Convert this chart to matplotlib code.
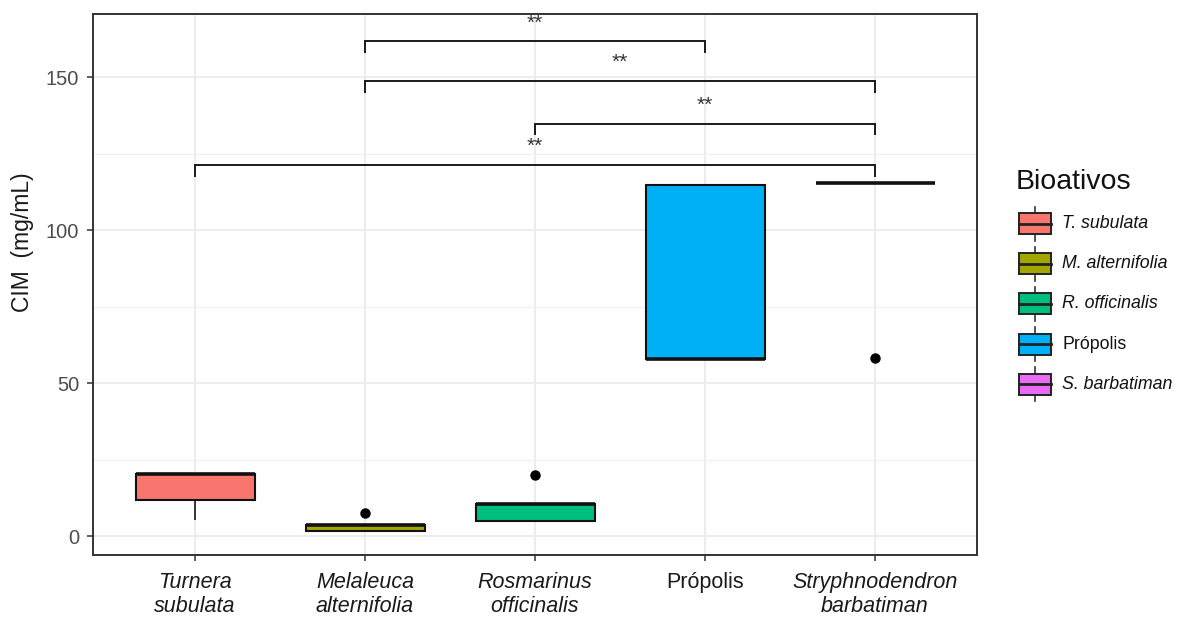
import matplotlib
matplotlib.use("Agg")
import matplotlib.pyplot as plt
from matplotlib.patches import Rectangle

plt.rcParams['font.family'] = ['Liberation Sans', 'DejaVu Sans']

# ---------------- data ----------------
categories = ["Turnera\nsubulata", "Melaleuca\nalternifolia", "Rosmarinus\nofficinalis",
              "Própolis", "Stryphnodendron\nbarbatiman"]
cat_italic = [True, True, True, False, True]
legend_labels = ["T. subulata", "M. alternifolia", "R. officinalis", "Própolis", "S. barbatiman"]
colors = ["#F8766D", "#A3A500", "#00BF7D", "#00B0F6", "#E76BF3"]

whislo = [5.5, 1.7, 5.0, 57.9, 115.5]
q1 = [11.9, 1.7, 5.0, 57.9, 115.5]
med = [20.4, 3.6, 10.5, 57.9, 115.5]
q3 = [20.4, 3.6, 10.5, 114.7, 115.5]
whishi = [20.4, 3.6, 10.5, 114.7, 115.5]
fliers = [[], [7.5], [19.8], [], [58.3]]

comparisons = [(2, 4), (2, 5), (3, 5), (1, 5)]
bracket_y = [161.7, 148.7, 134.8, 121.3]
bracket_labels = ["**", "**", "**", "**"]
tip_len = 3.5

yticks = [0, 50, 100, 150]
yminor = [25, 75, 125]

# ---------------- figure ----------------
W, H = 1180, 619
fig = plt.figure(figsize=(W / 100, H / 100), dpi=100)
ax = fig.add_axes([93 / W, 1 - 555 / H, (977 - 93) / W, (555 - 14) / H])

positions = list(range(1, len(categories) + 1))
stats = []
for i in range(len(categories)):
    stats.append(dict(whislo=whislo[i], q1=q1[i], med=med[i], q3=q3[i],
                      whishi=whishi[i], fliers=fliers[i]))

bp = ax.bxp(stats, positions=positions, widths=0.7, patch_artist=True,
            showcaps=False,
            boxprops=dict(linewidth=1.5, edgecolor="#111111"),
            medianprops=dict(linewidth=2.6, color="#111111", solid_capstyle='butt'),
            whiskerprops=dict(linewidth=1.4, color="#333333"),
            flierprops=dict(marker='o', markerfacecolor='black', markeredgecolor='black',
                            markersize=6.5))
for patch, c in zip(bp['boxes'], colors):
    patch.set_facecolor(c)
for b in bp['boxes']:
    b.set_zorder(3)
for m in bp['medians']:
    m.set_zorder(4)

# significance brackets
for (a, b), y, lab in zip(comparisons, bracket_y, bracket_labels):
    ax.plot([a, a, b, b], [y - tip_len, y, y, y - tip_len], color="#1A1A1A", lw=1.4,
            solid_joinstyle='miter', zorder=5)
    ax.text((a + b) / 2, y + 6.0, lab, ha='center', va='center', fontsize=15,
            color="#333333", zorder=5)

ax.set_xlim(0.4, 5.6)
ax.set_ylim(-6.2, 170.6)

# grid
ax.set_yticks(yticks)
ax.set_yticks(yminor, minor=True)
ax.set_xticks(positions)
ax.grid(True, which='major', color='#EBEBEB', lw=1.3, zorder=0)
ax.grid(True, which='minor', axis='y', color='#F0F0F0', lw=0.9, zorder=0)
ax.set_axisbelow(True)
ax.tick_params(axis='y', which='minor', length=0)

ax.set_yticklabels([str(t) for t in yticks], fontsize=14.5, color="#4D4D4D")
ax.set_xticklabels(categories, fontsize=15.5, color="#1A1A1A", linespacing=1.2)
for lbl, it in zip(ax.get_xticklabels(), cat_italic):
    lbl.set_style('italic' if it else 'normal')
ax.tick_params(axis='both', which='major', length=4, width=1.1, color="#333333")
ax.tick_params(axis='x', pad=8)
ax.tick_params(axis='y', pad=6)

for s in ax.spines.values():
    s.set_color("#333333")
    s.set_linewidth(1.4)

fig.text(23 / W, 1 - 242 / H, "CIM  (mg/mL)", rotation=90, ha='center', va='center',
         fontsize=16.5, color="#1A1A1A")

# ---------------- legend (manual) ----------------
lax = fig.add_axes([0, 0, 1, 1], facecolor='none')
lax.set_xlim(0, W)
lax.set_ylim(H, 0)
lax.axis('off')
lax.text(1016, 182, "Bioativos", fontsize=20.5, ha='left', va='center', color="#111111")
for i, (lab, c) in enumerate(zip(legend_labels, colors)):
    cy = 223.5 + 40.2 * i
    lax.plot([1035, 1035], [cy - 17, cy + 17], color="#333333", lw=1.2)
    lax.add_patch(Rectangle((1019, cy - 10.5), 32, 21, facecolor=c, edgecolor="#222222",
                            lw=1.4, zorder=3))
    lax.plot([1019, 1051], [cy, cy], color="#222222", lw=2.0, zorder=4)
    lax.text(1062, cy, lab, fontsize=12.8, ha='left', va='center', color="#111111",
             style='normal' if lab == "Própolis" else 'italic')

fig.savefig("out.png", dpi=100)
